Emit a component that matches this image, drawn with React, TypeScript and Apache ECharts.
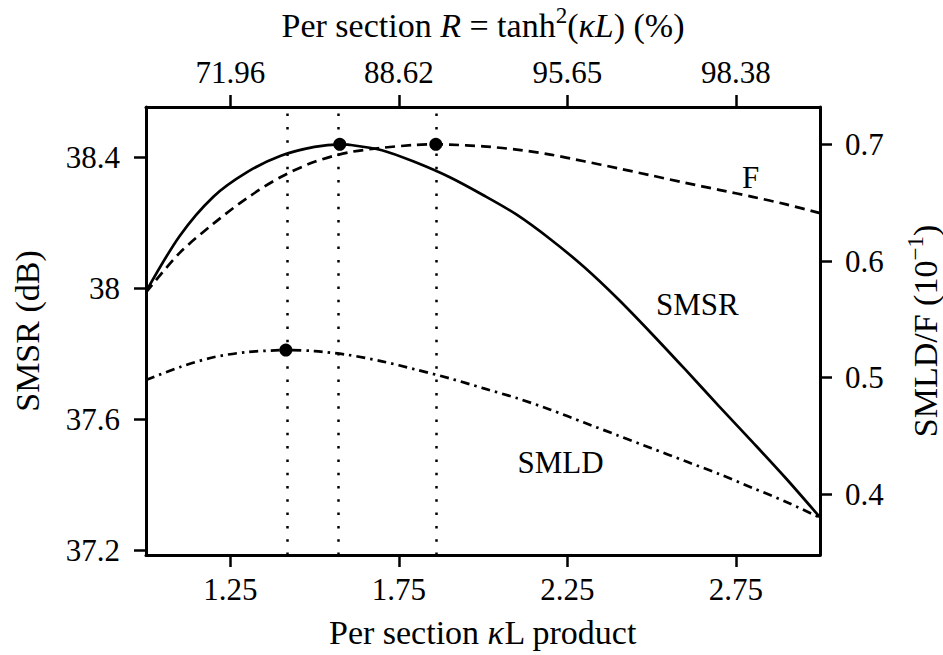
import React, { useEffect, useRef } from 'react';
import * as echarts from 'echarts';

// Per section kappa*L grid
const kL = [1.0, 1.1, 1.2, 1.3, 1.4, 1.5, 1.6, 1.7, 1.8, 1.9, 2.0, 2.1, 2.2, 2.3, 2.4, 2.5, 2.6, 2.7, 2.8, 2.9, 3.0];
// SMSR (dB), left axis
const smsr = [37.99, 38.16, 38.28, 38.355, 38.405, 38.432, 38.439, 38.422, 38.385, 38.34, 38.285, 38.225, 38.15, 38.065, 37.968, 37.862, 37.752, 37.64, 37.53, 37.418, 37.3];
// F (10^-1), right axis
const fVals = [0.573, 0.607, 0.632, 0.654, 0.672, 0.685, 0.693, 0.697, 0.6995, 0.6998, 0.6983, 0.6955, 0.6912, 0.6855, 0.6795, 0.6733, 0.667, 0.661, 0.655, 0.6485, 0.641];
// SMLD (10^-1), right axis
const smld = [0.498, 0.509, 0.5175, 0.522, 0.5236, 0.5228, 0.5195, 0.514, 0.507, 0.4995, 0.491, 0.4825, 0.4725, 0.4615, 0.4505, 0.4395, 0.4285, 0.4175, 0.4055, 0.3935, 0.38];

// optimum points
const smsrPeak = [1.575, 38.44];
const fPeak = [1.86, 0.7];
const smldPeak = [1.415, 0.5237];

// tick values / labels
const bottomTicks = [1.25, 1.75, 2.25, 2.75];
const topTickLabels = ['71.96', '88.62', '95.65', '98.38'];
const leftTicks = [37.2, 37.6, 38, 38.4];
const leftTickLabels = ['37.2', '37.6', '38', '38.4'];
const rightTicks = [0.4, 0.5, 0.6, 0.7];

// curve annotations [kL, value]
const labelF = [2.794, 0.672];
const labelSMSR = [2.636, 37.949];
const labelSMLD = [2.23, 0.4269];

const FONT = 'Liberation Serif';
const FS = 31;
const TFS = 34;

function withPeak(xs: number[], ys: number[], peak: number[]) {
  const pts = xs.map((x, i) => [x, ys[i]]);
  pts.push([peak[0], peak[1]]);
  pts.sort((a, b) => a[0] - b[0]);
  return pts;
}

export default function App() {
  const ref = useRef<HTMLDivElement>(null);
  useEffect(() => {
    const chart = echarts.init(ref.current!, null, { renderer: 'svg' });
    const axisLine = { show: true, onZero: false, lineStyle: { color: '#000', width: 3 } };
    const tick = (vals: number[]) => ({ show: true, inside: false, length: 12, customValues: vals, lineStyle: { color: '#000', width: 2.5 } });
    const textBase = { color: '#000', fontFamily: FONT, fontSize: FS };
    const titleBase = { color: '#000', fontFamily: FONT, fontSize: TFS };
    const option: any = {
      animation: false,
      backgroundColor: '#fff',
      grid: { left: 146, right: 123, top: 107, bottom: 100, containLabel: false, outerBoundsMode: 'none' },
      xAxis: [
        {
          type: 'value', position: 'bottom', min: 1, max: 3,
          axisLine, axisTick: tick(bottomTicks), splitLine: { show: false },
          axisLabel: { ...textBase, margin: 19, customValues: bottomTicks, formatter: (v: number) => v.toFixed(2) },
          name: 'Per section {i|κ}L product', nameLocation: 'middle', nameGap: 60,
          nameTextStyle: { ...titleBase, rich: { i: { ...titleBase, fontStyle: 'italic' } } },
        },
        {
          type: 'value', position: 'top', min: 1, max: 3,
          axisLine, axisTick: tick(bottomTicks), splitLine: { show: false },
          axisLabel: {
            ...textBase, margin: 19, customValues: bottomTicks,
            formatter: (v: number) => {
              const i = bottomTicks.findIndex((t) => Math.abs(t - v) < 1e-6);
              return i >= 0 ? topTickLabels[i] : '';
            },
          },
          name: 'Per section {i|R} = tanh{s|2}({i|κL}) (%)', nameLocation: 'middle', nameGap: 60,
          nameTextStyle: {
            ...titleBase,
            rich: {
              i: { ...titleBase, fontStyle: 'italic' },
              s: { ...titleBase, fontSize: 23, padding: [0, 0, 20, 0] },
            },
          },
        },
      ],
      yAxis: [
        {
          type: 'value', position: 'left', min: 37.185, max: 38.554,
          axisLine, axisTick: tick(leftTicks), splitLine: { show: false },
          axisLabel: {
            ...textBase, margin: 26, customValues: leftTicks,
            formatter: (v: number) => {
              const i = leftTicks.findIndex((t) => Math.abs(t - v) < 1e-6);
              return i >= 0 ? leftTickLabels[i] : '';
            },
          },
          name: 'SMSR (dB)', nameLocation: 'middle', nameGap: 102, nameRotate: 90,
          nameTextStyle: { ...titleBase },
        },
        {
          type: 'value', position: 'right', min: 0.348, max: 0.732,
          axisLine, axisTick: tick(rightTicks), splitLine: { show: false },
          axisLabel: { ...textBase, margin: 25, customValues: rightTicks, formatter: (v: number) => v.toFixed(1) },
          name: 'SMLD/F (10{s|−1})', nameLocation: 'middle', nameGap: 84, nameRotate: 90,
          nameTextStyle: {
            ...titleBase,
            rich: { s: { ...titleBase, fontSize: 23, padding: [0, 0, 20, 0] } },
          },
        },
      ],
      series: [
        {
          name: 'SMSR', type: 'line', xAxisIndex: 0, yAxisIndex: 0,
          data: withPeak(kL, smsr, smsrPeak), smooth: 0.3, showSymbol: false,
          lineStyle: { color: '#000', width: 2.7 },
          markLine: {
            silent: true, symbol: ['none', 'none'], label: { show: false },
            lineStyle: { color: '#000', width: 2.5, type: [2.5, 10.8] },
            data: [{ xAxis: smldPeak[0] }, { xAxis: smsrPeak[0] }, { xAxis: fPeak[0] }],
          },
        },
        {
          name: 'F', type: 'line', xAxisIndex: 0, yAxisIndex: 1,
          data: withPeak(kL, fVals, fPeak), smooth: 0.3, showSymbol: false,
          lineStyle: { color: '#000', width: 2.7, type: [10, 6] },
        },
        {
          name: 'SMLD', type: 'line', xAxisIndex: 0, yAxisIndex: 1,
          data: withPeak(kL, smld, smldPeak), smooth: 0.3, showSymbol: false,
          lineStyle: { color: '#000', width: 2.7, type: [9, 5, 2.5, 5] },
        },
        {
          type: 'scatter', xAxisIndex: 0, yAxisIndex: 0, symbolSize: 13, z: 5,
          itemStyle: { color: '#000', opacity: 1 }, data: [smsrPeak],
        },
        {
          type: 'scatter', xAxisIndex: 0, yAxisIndex: 1, symbolSize: 13, z: 5,
          itemStyle: { color: '#000', opacity: 1 }, data: [fPeak, smldPeak],
        },
        {
          type: 'scatter', xAxisIndex: 0, yAxisIndex: 1, symbolSize: 0, silent: true,
          itemStyle: { opacity: 1 },
          label: { show: true, position: 'inside', ...textBase, formatter: (p: any) => p.name },
          data: [
            { name: 'F', value: labelF },
            { name: 'SMLD', value: labelSMLD },
          ],
        },
        {
          type: 'scatter', xAxisIndex: 0, yAxisIndex: 0, symbolSize: 0, silent: true,
          itemStyle: { opacity: 1 },
          label: { show: true, position: 'inside', ...textBase, formatter: (p: any) => p.name },
          data: [{ name: 'SMSR', value: labelSMSR }],
        },
      ],
    };
    chart.setOption(option);
    return () => chart.dispose();
  }, []);
  return <div ref={ref} style={{ position: 'absolute', left: 0, top: 0, width: 943, height: 655 }} />;
}
